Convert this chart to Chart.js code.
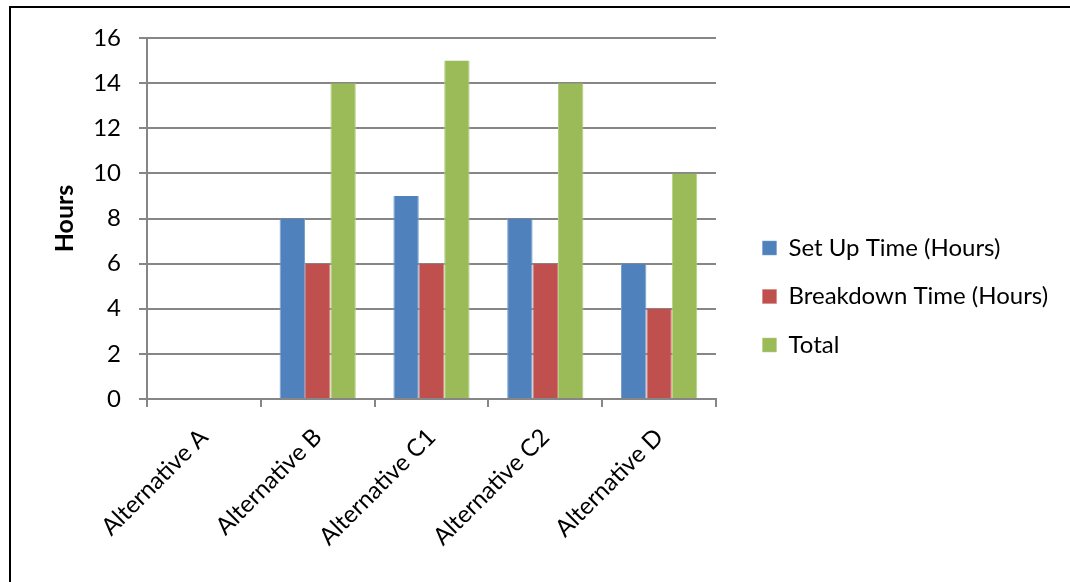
<!DOCTYPE html>
<html>
<head>
  <meta charset="utf-8">
  <title>Set Up and Breakdown Time</title>
  <script src="https://cdn.jsdelivr.net/npm/chart.js@4"></script>
  <style>
    html, body {
      margin: 0;
      padding: 0;
      background: #fff;
      overflow: hidden;
    }
    #wrap {
      position: relative;
      width: 1070px;
      height: 582px;
    }
    #frame {
      position: absolute;
      left: 9px;
      top: 6px;
      width: 1100px;
      height: 620px;
      border: 2px solid #000;
      pointer-events: none;
    }
    canvas {
      position: absolute;
      left: 0;
      top: 0;
    }
  </style>
</head>
<body>
  <div id="wrap">
    <canvas id="chart" width="1070" height="582"></canvas>
    <div id="frame"></div>
  </div>

  <script>
    // Categories and hours per alternative
    const alternatives = ['Alternative A', 'Alternative B', 'Alternative C1', 'Alternative C2', 'Alternative D'];
    const setUpHours = [0, 8, 9, 8, 6];
    const breakdownHours = [0, 6, 6, 6, 4];
    const totalHours = [0, 14, 15, 14, 10];

    const FONT = 'Lato, "Open Sans", sans-serif';
    const GRID = '#868686';
    const PLOT_RIGHT = 716;   // where the gridlines stop
    const LEGEND_GAP = 22;    // extra room between plot and legend

    // push the legend a little further right of the plot
    const legendShift = {
      id: 'legendShift',
      afterLayout(chart) {
        if (chart.legend) {
          chart.legend.left += LEGEND_GAP;
          chart.legend.right += LEGEND_GAP;
        }
      }
    };

    const ctx = document.getElementById('chart').getContext('2d');
    const chart = new Chart(ctx, {
      type: 'bar',
      data: {
        labels: alternatives,
        datasets: [
          {
            label: 'Set Up Time (Hours)',
            data: setUpHours,
            backgroundColor: '#4F81BD',
            borderColor: '#7A9FD0',
            borderWidth: { left: 1, right: 1 }
          },
          {
            label: 'Breakdown Time (Hours)',
            data: breakdownHours,
            backgroundColor: '#C0504D',
            borderColor: '#D27B78',
            borderWidth: { left: 1, right: 1 }
          },
          {
            label: 'Total',
            data: totalHours,
            backgroundColor: '#9BBB59',
            borderColor: '#B5CF80',
            borderWidth: { left: 1, right: 1 }
          }
        ]
      },
      options: {
        responsive: false,
        animation: false,
        layout: {
          padding: { left: 50, top: 38, right: 0, bottom: 27 }
        },
        datasets: {
          bar: {
            categoryPercentage: 0.67,
            barPercentage: 1.0
          }
        },
        plugins: {
          legend: {
            position: 'right',
            align: 'center',
            maxWidth: 400,
            labels: {
              color: '#000',
              boxWidth: 14,
              boxHeight: 14,
              padding: 24.5,
              font: { family: FONT, size: 24 }
            }
          },
          tooltip: { enabled: false }
        },
        scales: {
          x: {
            grid: {
              display: true,
              drawOnChartArea: false,
              drawTicks: true,
              tickLength: 8,
              color: GRID,
              lineWidth: 2
            },
            border: { color: GRID, width: 2 },
            ticks: {
              color: '#000',
              minRotation: 45,
              maxRotation: 45,
              padding: 16,
              font: { family: FONT, size: 24 }
            },
            afterFit: (scale) => { scale.height = 156; }
          },
          y: {
            min: 0,
            max: 16,
            ticks: {
              stepSize: 2,
              color: '#000',
              padding: 18,
              font: { family: FONT, size: 24 }
            },
            grid: {
              color: GRID,
              lineWidth: 2,
              tickLength: 8
            },
            border: { color: GRID, width: 2 },
            title: {
              display: true,
              text: 'Hours',
              color: '#000',
              padding: { top: 0, bottom: 0 },
              font: { family: FONT, size: 25, weight: 'bold' }
            },
            afterFit: (scale) => { scale.width = 97; }
          }
        }
      },
      plugins: [legendShift]
    });

    // size the right padding so the plot ends at PLOT_RIGHT
    chart.options.layout.padding.right = Math.max(0, chart.width - PLOT_RIGHT - chart.legend.width);
    chart.update();
  </script>
</body>
</html>
